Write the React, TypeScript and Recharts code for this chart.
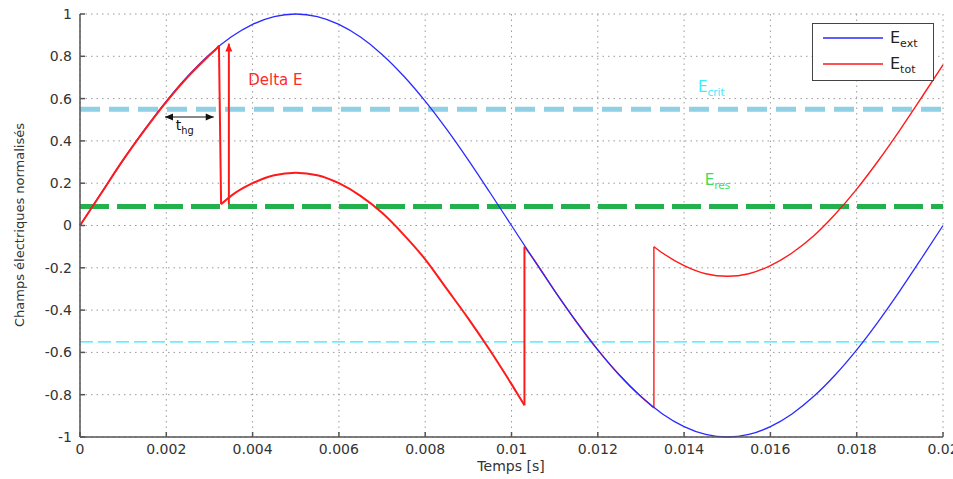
import React from 'react'
import { LineChart, Line, XAxis, YAxis, CartesianGrid, ReferenceLine, ReferenceDot } from 'recharts'

const xTicks = [0, 0.002, 0.004, 0.006, 0.008, 0.01, 0.012, 0.014, 0.016, 0.018, 0.02]
const yTicks = [-1, -0.8, -0.6, -0.4, -0.2, 0, 0.2, 0.4, 0.6, 0.8, 1]

// E_ext
const tExt = [
  0, 0.0005, 0.001, 0.0015, 0.002, 0.0025, 0.003, 0.0035, 0.004, 0.0045, 0.005,
  0.0055, 0.006, 0.0065, 0.007, 0.0075, 0.008, 0.0085, 0.009, 0.0095, 0.01,
  0.0105, 0.011, 0.0115, 0.012, 0.0125, 0.013, 0.0135, 0.014, 0.0145, 0.015,
  0.0155, 0.016, 0.0165, 0.017, 0.0175, 0.018, 0.0185, 0.019, 0.0195, 0.02,
]
const eExt = [
  0, 0.156, 0.309, 0.454, 0.588, 0.707, 0.809, 0.891, 0.951, 0.988, 1,
  0.988, 0.951, 0.891, 0.809, 0.707, 0.588, 0.454, 0.309, 0.156, 0,
  -0.156, -0.309, -0.454, -0.588, -0.707, -0.809, -0.891, -0.951, -0.988, -1,
  -0.988, -0.951, -0.891, -0.809, -0.707, -0.588, -0.454, -0.309, -0.156, 0,
]

// E_tot, piece by piece (the vertical jumps join the end of one piece to the start of the next)
const tRise = [0, 0.0005, 0.001, 0.0015, 0.002, 0.0025, 0.003, 0.00318, 0.00322]
const eRise = [0, 0.155, 0.31, 0.452, 0.585, 0.703, 0.805, 0.84, 0.85]

const tFall = [
  0.00327, 0.0035, 0.004, 0.0045, 0.005, 0.0055, 0.006, 0.0065, 0.007, 0.0075,
  0.008, 0.0085, 0.009, 0.0095, 0.01, 0.0103,
]
const eFall = [
  0.1, 0.14, 0.2, 0.238, 0.25, 0.238, 0.2, 0.14, 0.06, -0.043,
  -0.16, -0.3, -0.44, -0.59, -0.75, -0.85,
]

const tFollow = [0.0103, 0.0105, 0.011, 0.0115, 0.012, 0.0125, 0.013, 0.0133]
const eFollow = [-0.1, -0.156, -0.309, -0.454, -0.588, -0.707, -0.809, -0.863]

const tRecover = [
  0.0133, 0.0135, 0.014, 0.0145, 0.015, 0.0155, 0.016, 0.0165, 0.017, 0.0175,
  0.018, 0.0185, 0.019, 0.0195, 0.02,
]
const eRecover = [
  -0.1, -0.13, -0.19, -0.228, -0.24, -0.228, -0.19, -0.13, -0.05, 0.053,
  0.172, 0.306, 0.451, 0.604, 0.76,
]

const eCrit = 0.55
const eRes = 0.09
const eCritNeg = -0.55

const rows = (ts: number[], vs: number[]) => ts.map((t, i) => ({ t, v: vs[i] }))
const jump = (ta: number[], va: number[], tb: number[], vb: number[]) => [
  { t: ta[ta.length - 1], v: va[va.length - 1] },
  { t: tb[0], v: vb[0] },
]

const extData = rows(tExt, eExt)
const riseData = rows(tRise, eRise)
const fallData = rows(tFall, eFall)
const followData = rows(tFollow, eFollow)
const recoverData = rows(tRecover, eRecover)
const jump1 = jump(tRise, eRise, tFall, eFall)
const jump2 = jump(tFall, eFall, tFollow, eFollow)
const jump3 = jump(tFollow, eFollow, tRecover, eRecover)

const FONT = '"DejaVu Sans", "Liberation Sans", Arial, sans-serif'
const RED = '#ff1a1a'
const BLUE = '#2a2aff'

const arrowShape = (color: string, width: number, both: boolean) => (p: any) => {
  const { x1, y1, x2, y2 } = p
  const dx = x2 - x1
  const dy = y2 - y1
  const len = Math.sqrt(dx * dx + dy * dy) || 1
  const ux = dx / len
  const uy = dy / len
  const head = (x: number, y: number, sx: number, sy: number) => {
    const L = 8
    const W = 3.5
    const bx = x - sx * L
    const by = y - sy * L
    return `${x},${y} ${bx - sy * W},${by + sx * W} ${bx + sy * W},${by - sx * W}`
  }
  return (
    <g>
      <line x1={x1} y1={y1} x2={x2} y2={y2} stroke={color} strokeWidth={width} />
      <polygon points={head(x2, y2, ux, uy)} fill={color} />
      {both && <polygon points={head(x1, y1, -ux, -uy)} fill={color} />}
    </g>
  )
}

const subText = (main: string, sub: string, color: string, size: number) => (p: any) => (
  <text x={p.cx} y={p.cy} fill={color} fontFamily={FONT} fontSize={size}>
    {main}
    <tspan fontSize={size * 0.7} dy={4}>{sub}</tspan>
  </text>
)

const seg = (data: any[], color: string, width: number, curve: 'monotone' | 'linear') => (
  <Line
    data={data}
    dataKey="v"
    type={curve}
    stroke={color}
    strokeWidth={width}
    dot={false}
    activeDot={false}
    isAnimationActive={false}
  />
)

const App = () => {
  return (
    <div style={{ position: 'absolute', left: 0, top: 0, width: 953, height: 479, background: '#fff' }}>
      <LineChart
        width={953}
        height={479}
        margin={{ top: 14, right: 10, bottom: 0, left: 0 }}
      >
        <CartesianGrid stroke="#9a9a9a" strokeDasharray="1.5 4" />
        <XAxis
          dataKey="t"
          type="number"
          domain={[0, 0.02]}
          ticks={xTicks}
          allowDuplicatedCategory={false}
          tickFormatter={(v: number) => String(+v.toFixed(3))}
          height={42}
          stroke="#555"
          strokeWidth={1.5}
          tickSize={-5}
          tickMargin={12}
          tick={{ fill: '#333', fontSize: 14, fontFamily: FONT }}
          interval={0}
        />
        <YAxis
          type="number"
          domain={[-1, 1]}
          ticks={yTicks}
          tickFormatter={(v: number) => String(+v.toFixed(1))}
          width={80}
          stroke="#555"
          strokeWidth={1.5}
          tickSize={-5}
          tickMargin={13}
          tick={{ fill: '#333', fontSize: 14, fontFamily: FONT }}
          interval={0}
        />
        <ReferenceLine y={eCrit} stroke="#8fd0e4" strokeWidth={5} strokeDasharray="20 9" />
        <ReferenceLine y={eRes} stroke="#22b14c" strokeWidth={5} strokeDasharray="29 8" />
        <ReferenceLine y={eCritNeg} stroke="#30e8ff" strokeWidth={1.3} strokeDasharray="13 5" />
        {seg(followData, RED, 1.4, 'monotone')}
        {seg(jump3, RED, 1.4, 'linear')}
        {seg(recoverData, RED, 1.4, 'monotone')}
        {seg(extData, BLUE, 1.3, 'monotone')}
        {seg(riseData, RED, 2, 'monotone')}
        {seg(jump1, RED, 2, 'linear')}
        {seg(fallData, RED, 2, 'monotone')}
        {seg(jump2, RED, 2, 'linear')}
        <ReferenceLine
          segment={[{ x: 0.00345, y: 0.1 }, { x: 0.00345, y: 0.86 }]}
          shape={arrowShape(RED, 2, false)}
        />
        <ReferenceLine
          segment={[{ x: 0.00197, y: 0.513 }, { x: 0.0031, y: 0.513 }]}
          shape={arrowShape('#111', 1.2, true)}
        />
        <ReferenceDot
          x={0.0039}
          y={0.665}
          r={0}
          shape={(p: any) => (
            <text x={p.cx} y={p.cy} fill="#ff2a2a" fontFamily={FONT} fontSize={15}>Delta E</text>
          )}
        />
        <ReferenceDot x={0.00222} y={0.45} r={0} shape={subText('t', 'hg', '#111', 14)} />
        <ReferenceDot x={0.01432} y={0.63} r={0} shape={subText('E', 'crit', '#40eaff', 15)} />
        <ReferenceDot x={0.01448} y={0.19} r={0} shape={subText('E', 'res', '#3ddc5c', 15)} />
      </LineChart>

      <div
        style={{
          position: 'absolute', left: 20 - 160, top: 225 - 10, width: 320, height: 20,
          lineHeight: '20px', textAlign: 'center', transform: 'rotate(-90deg)',
          fontFamily: FONT, fontSize: 13, color: '#333',
        }}
      >
        Champs électriques normalisés
      </div>
      <div
        style={{
          position: 'absolute', left: 511 - 100, top: 457, width: 200, height: 18,
          lineHeight: '18px', textAlign: 'center', fontFamily: FONT, fontSize: 14, color: '#333',
        }}
      >
        Temps [s]
      </div>

      <div
        style={{
          position: 'absolute', left: 812, top: 23, width: 120, height: 56,
          border: '1.5px solid #444', background: '#fff', fontFamily: FONT, color: '#222',
        }}
      >
        <svg width={120} height={56} style={{ position: 'absolute', left: 0, top: 0 }}>
          <line x1={10} y1={14} x2={70} y2={14} stroke={BLUE} strokeWidth={1.5} />
          <line x1={10} y1={40} x2={70} y2={40} stroke={RED} strokeWidth={1.5} />
          <text x={77} y={19} fontSize={16} fill="#222" fontFamily={FONT}>
            E<tspan fontSize={11} dy={4}>ext</tspan>
          </text>
          <text x={77} y={45} fontSize={16} fill="#222" fontFamily={FONT}>
            E<tspan fontSize={11} dy={4}>tot</tspan>
          </text>
        </svg>
      </div>
    </div>
  )
}

export default App
